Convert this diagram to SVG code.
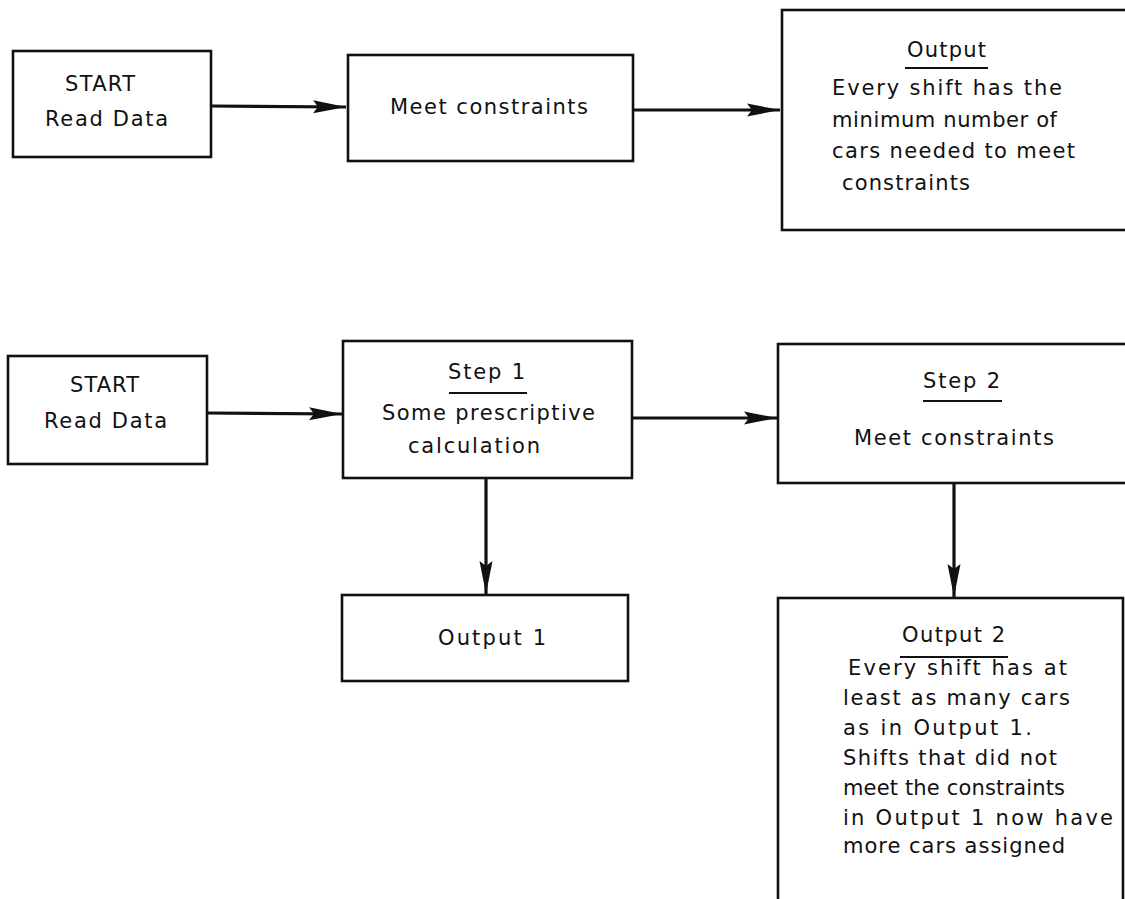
<svg xmlns="http://www.w3.org/2000/svg" width="1125" height="899" viewBox="0 0 1125 899">
  <style>
    .box { fill: #fff; stroke: #111; stroke-width: 2.6; }
    .lbl { font-family: "DejaVu Sans", "Liberation Sans", sans-serif; font-size: 21px; fill: #111; }
    .rule { stroke: #111; stroke-width: 1.8; }
    .edge { stroke: #111; stroke-width: 3.2; fill: none; }
  </style>
  <defs>
    <marker id="arrow" markerUnits="userSpaceOnUse" markerWidth="34" markerHeight="14" refX="33" refY="7" orient="auto">
      <path d="M0,0.5 L33,7 L0,13.5 L5,7 z" fill="#111"/>
    </marker>
  </defs>
  <rect width="1125" height="899" fill="#fff"/>

  <!-- upper chain: single pass -->
  <g id="start-a">
    <rect class="box" x="13" y="51" width="198" height="106"/>
    <text class="lbl" x="65" y="91" textLength="70" lengthAdjust="spacing">START</text>
    <text class="lbl" x="45" y="126" textLength="123" lengthAdjust="spacing">Read Data</text>
  </g>
  <g id="meet-a">
    <rect class="box" x="348" y="55" width="285" height="106"/>
    <text class="lbl" x="390" y="114" textLength="198" lengthAdjust="spacing">Meet constraints</text>
  </g>
  <g id="output-a">
    <rect class="box" x="782" y="10" width="360" height="220"/>
    <text class="lbl" x="907" y="57" textLength="79" lengthAdjust="spacing">Output</text>
    <line class="rule" x1="905" y1="68" x2="988" y2="68"/>
    <text class="lbl" x="832" y="95" textLength="230" lengthAdjust="spacing">Every shift has the</text>
    <text class="lbl" x="832" y="127" textLength="225" lengthAdjust="spacing">minimum number of</text>
    <text class="lbl" x="832" y="158" textLength="243" lengthAdjust="spacing">cars needed to meet</text>
    <text class="lbl" x="842" y="190" textLength="128" lengthAdjust="spacing">constraints</text>
  </g>

  <!-- lower chain: two steps -->
  <g id="start-b">
    <rect class="box" x="8" y="356" width="199" height="108"/>
    <text class="lbl" x="70" y="392" textLength="69" lengthAdjust="spacing">START</text>
    <text class="lbl" x="44" y="428" textLength="123" lengthAdjust="spacing">Read Data</text>
  </g>
  <g id="step-1">
    <rect class="box" x="343" y="341" width="289" height="137"/>
    <text class="lbl" x="448" y="379" textLength="77" lengthAdjust="spacing">Step 1</text>
    <line class="rule" x1="449" y1="393" x2="527" y2="393"/>
    <text class="lbl" x="382" y="420" textLength="213" lengthAdjust="spacing">Some prescriptive</text>
    <text class="lbl" x="408" y="453" textLength="132" lengthAdjust="spacing">calculation</text>
  </g>
  <g id="output-1">
    <rect class="box" x="342" y="595" width="286" height="86"/>
    <text class="lbl" x="438" y="645" textLength="108" lengthAdjust="spacing">Output 1</text>
  </g>
  <g id="step-2">
    <rect class="box" x="778" y="344" width="364" height="139"/>
    <text class="lbl" x="923" y="388" textLength="77" lengthAdjust="spacing">Step 2</text>
    <line class="rule" x1="923" y1="401" x2="1002" y2="401"/>
    <text class="lbl" x="854" y="445" textLength="200" lengthAdjust="spacing">Meet constraints</text>
  </g>
  <g id="output-2">
    <rect class="box" x="778" y="598" width="345" height="320"/>
    <text class="lbl" x="902" y="642" textLength="103" lengthAdjust="spacing">Output 2</text>
    <line class="rule" x1="900" y1="657" x2="1008" y2="657"/>
    <text class="lbl" x="848" y="675" textLength="219" lengthAdjust="spacing">Every shift has at</text>
    <text class="lbl" x="843" y="705" textLength="227" lengthAdjust="spacing">least as many cars</text>
    <text class="lbl" x="843" y="735" textLength="189" lengthAdjust="spacing">as in Output 1.</text>
    <text class="lbl" x="843" y="765" textLength="214" lengthAdjust="spacing">Shifts that did not</text>
    <text class="lbl" x="843" y="795" textLength="222" lengthAdjust="spacing">meet the constraints</text>
    <text class="lbl" x="843" y="825" textLength="270" lengthAdjust="spacing">in Output 1 now have</text>
    <text class="lbl" x="843" y="853" textLength="222" lengthAdjust="spacing">more cars assigned</text>
  </g>

  <g id="connectors">
    <line class="edge" x1="211" y1="106" x2="346" y2="107" marker-end="url(#arrow)"/>
    <line class="edge" x1="633" y1="110" x2="780" y2="110" marker-end="url(#arrow)"/>
    <line class="edge" x1="207" y1="413" x2="342" y2="414" marker-end="url(#arrow)"/>
    <line class="edge" x1="632" y1="418" x2="777" y2="418" marker-end="url(#arrow)"/>
    <line class="edge" x1="486" y1="478" x2="486" y2="594" marker-end="url(#arrow)"/>
    <line class="edge" x1="954" y1="483" x2="954" y2="597" marker-end="url(#arrow)"/>
  </g>
</svg>
